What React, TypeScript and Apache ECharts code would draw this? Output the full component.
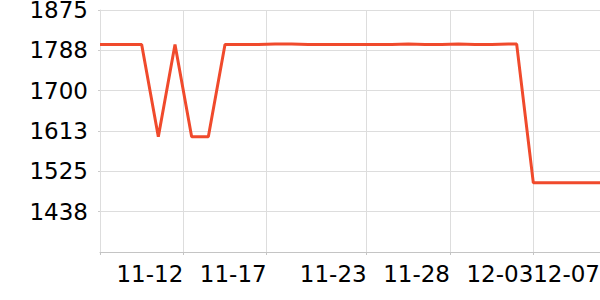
import React, { useEffect, useRef } from "react";
import * as echarts from "echarts";

const times: string[] = [
  "2023-11-07 00:00", "2023-11-09 12:00", "2023-11-10 12:00", "2023-11-11 12:00",
  "2023-11-12 12:00", "2023-11-13 12:00", "2023-11-14 12:00", "2023-11-15 12:00",
  "2023-11-16 12:00", "2023-11-17 12:00", "2023-11-18 12:00", "2023-11-19 12:00",
  "2023-11-20 12:00", "2023-11-21 12:00", "2023-11-22 12:00", "2023-11-23 12:00",
  "2023-11-24 12:00", "2023-11-25 12:00", "2023-11-26 12:00", "2023-11-27 12:00",
  "2023-11-28 12:00", "2023-11-29 12:00", "2023-11-30 12:00", "2023-12-01 12:00",
  "2023-12-02 00:00", "2023-12-03 00:00", "2023-12-04 00:00", "2023-12-05 00:00",
  "2023-12-06 00:00", "2023-12-07 00:00",
];
const prices: number[] = [
  1800, 1800, 1600, 1800,
  1600, 1600, 1800, 1800,
  1800, 1801, 1801, 1800,
  1800, 1800, 1800, 1800,
  1800, 1801, 1800, 1800,
  1801, 1800, 1800, 1801,
  1801, 1500, 1500, 1500,
  1500, 1500,
];

// Tick dates and labels
const tickDates: string[] = ["2023-11-07", "2023-11-12", "2023-11-17", "2023-11-23", "2023-11-28", "2023-12-03", "2023-12-07"];
const labelDates: string[] = ["2023-11-12", "2023-11-17", "2023-11-23", "2023-11-28", "2023-12-03", "2023-12-07"];
const axisStart = "2023-11-07";
const axisEnd = "2023-12-07";

// Y axis scale
const yMin = 1350;
const yMax = 1875;
const yStep = 87.5;

function toTs(s: string): number {
  const [d, t] = s.split(" ");
  const [y, m, day] = d.split("-").map(Number);
  let hh = 0, mm = 0;
  if (t) {
    const p = t.split(":").map(Number);
    hh = p[0];
    mm = p[1];
  }
  return new Date(y, m - 1, day, hh, mm).getTime();
}

function pad(n: number) {
  return n < 10 ? "0" + n : "" + n;
}

export default function App() {
  const ref = useRef<HTMLDivElement>(null);

  useEffect(() => {
    if (!ref.current) return;
    const chart = echarts.init(ref.current, null, { renderer: "svg" });
    const font = "DejaVu Sans";
    chart.setOption({
      animation: false,
      backgroundColor: "#ffffff",
      grid: { left: 100, right: 0, top: 10, bottom: 48, containLabel: false, outerBoundsMode: "none" },
      xAxis: {
        type: "value",
        min: toTs(axisStart),
        max: toTs(axisEnd),
        axisLine: { show: true, lineStyle: { color: "#c4c4c4", width: 1 } },
        axisTick: {
          show: true,
          length: 3,
          lineStyle: { color: "#c4c4c4" },
          customValues: tickDates.map((d) => toTs(d)),
        },
        splitLine: { show: true, lineStyle: { color: "#dddddd", width: 1 } },
        axisLabel: {
          customValues: labelDates.map((d) => toTs(d)),
          align: "right",
          hideOverlap: false,
          showMaxLabel: true,
          showMinLabel: true,
          margin: 10,
          fontSize: 23,
          fontFamily: font,
          color: "#000000",
          formatter: (v: number) => {
            const d = new Date(v);
            return pad(d.getMonth() + 1) + "-" + pad(d.getDate());
          },
        },
      },
      yAxis: {
        type: "value",
        min: yMin,
        max: yMax,
        interval: yStep,
        axisLine: { show: true, lineStyle: { color: "#dddddd" } },
        axisTick: { show: true, length: 2, lineStyle: { color: "#cccccc" } },
        splitLine: { show: true, lineStyle: { color: "#dddddd", width: 1 } },
        axisLabel: {
          showMinLabel: false,
          showMaxLabel: true,
          margin: 12,
          fontSize: 23,
          fontFamily: font,
          color: "#000000",
          formatter: (v: number) => String(Math.round(v)),
        },
      },
      series: [
        {
          type: "line",
          data: times.map((t, i) => [toTs(t), prices[i]]),
          showSymbol: false,
          symbol: "none",
          lineStyle: { color: "#f04a2c", width: 3 },
          itemStyle: { color: "#f04a2c" },
        },
      ],
    });
    return () => chart.dispose();
  }, []);

  return <div ref={ref} style={{ width: 600, height: 300, position: "absolute", left: 0, top: 0 }} />;
}
